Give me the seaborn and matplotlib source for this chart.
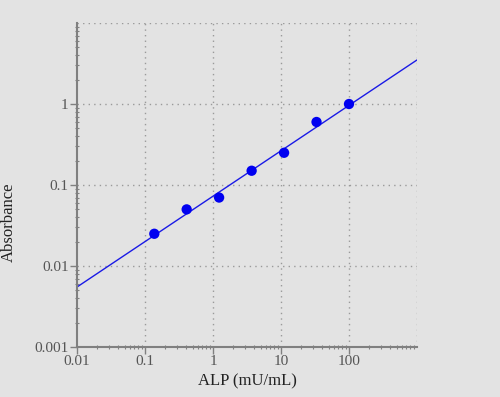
import numpy as np
import pandas as pd
import matplotlib
matplotlib.use("Agg")
import matplotlib.pyplot as plt
import matplotlib.ticker as mticker
import seaborn as sns

# standard curve data (ALP vs absorbance)
alp = [0.137, 0.41, 1.23, 3.7, 11.1, 33.3, 100]
absorbance = [0.025, 0.05, 0.07, 0.15, 0.25, 0.6, 1.0]
# fitted line
fit_x = [0.01, 1000]
fit_y = [0.0055, 3.5]

x_ticks = [0.01, 0.1, 1, 10, 100]
x_labels = ["0.01", "0.1", "1", "10", "100"]
y_ticks = [0.001, 0.01, 0.1, 1]
y_labels = ["0.001", "0.01", "0.1", "1"]

sns.set_style("white")
plt.rcParams['font.family'] = ['Liberation Serif', 'DejaVu Serif']

bg = "#e3e3e3"
fig = plt.figure(figsize=(5, 3.97), dpi=100, facecolor=bg)
ax = fig.add_axes([0.154, 0.126, 0.68, 0.816])
ax.set_facecolor(bg)

pts = pd.DataFrame({"x": alp, "y": absorbance})
line = pd.DataFrame({"x": fit_x, "y": fit_y})

sns.lineplot(data=line, x="x", y="y", color="#1a1ae6", linewidth=1, ax=ax)
sns.scatterplot(data=pts, x="x", y="y", color="#0000f0", s=55, edgecolor="none", ax=ax, zorder=3)

ax.set_xscale("log")
ax.set_yscale("log")
ax.set_xlim(0.01, 1000)
ax.set_ylim(0.001, 10)

# grid at every decade including the edges
for gx in [0.1, 1, 10, 100, 1000]:
    ax.axvline(gx, color="#9a9a9a", linestyle=(0, (1, 3)), linewidth=1, zorder=0)
for gy in [0.01, 0.1, 1, 10]:
    ax.axhline(gy, color="#9a9a9a", linestyle=(0, (1, 3)), linewidth=1, zorder=0)

ax.set_xticks(x_ticks)
ax.set_xticklabels(x_labels)
ax.set_yticks(y_ticks)
ax.set_yticklabels(y_labels)
ax.xaxis.set_minor_locator(mticker.LogLocator(base=10, subs=np.arange(2, 10)))
ax.yaxis.set_minor_locator(mticker.LogLocator(base=10, subs=np.arange(2, 10)))
ax.xaxis.set_minor_formatter(mticker.NullFormatter())
ax.yaxis.set_minor_formatter(mticker.NullFormatter())

ax.tick_params(which="major", direction="out", length=5, width=1, color="#808080",
               labelsize=11, labelcolor="#555555", bottom=True, left=True, pad=1)
ax.tick_params(which="minor", direction="inout", length=3, width=0.8, color="#808080",
               bottom=True, left=True)

for s in ["top", "right"]:
    ax.spines[s].set_visible(False)
for s in ["left", "bottom"]:
    ax.spines[s].set_color("#808080")
    ax.spines[s].set_linewidth(1.5)

ax.set_xlabel("ALP (mU/mL)", fontsize=12, color="#222222", labelpad=4)
ax.set_ylabel("Absorbance", fontsize=12, color="#222222", va="center")
ax.yaxis.set_label_coords(-0.2, 0.386)

fig.savefig("out.png", dpi=100, facecolor=bg)
